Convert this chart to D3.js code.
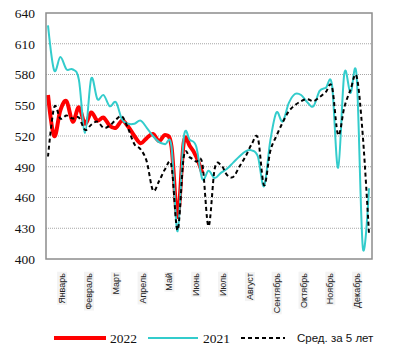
<!DOCTYPE html>
<html><head><meta charset="utf-8">
<script src="https://cdn.jsdelivr.net/npm/d3@7"></script>
<style>html,body{margin:0;padding:0;background:#fff;}svg{display:block;}</style>
</head><body>
<script>
const weeks = d3.range(1, 54);
const months = ["Январь","Февраль","Март","Апрель","Май","Июнь","Июль","Август","Сентябрь","Октябрь","Ноябрь","Декабрь"];
const yTicks = [400, 430, 460, 490, 520, 550, 580, 610, 640];
const s2022 = [560,520,545,554,534,548,532,543,535,538,530,528,535,529,520,513,518,522,515,521,510,441,514,510,500,484];
const s2021 = [628,584,597,585,585,575,523,576,556,560,549,553,536,532,532,535,528,520,514,512,510,427,519,516,510,478,486,479,484,488,494,500,505,506,500,471,515,543,534,552,561,560,553,549,564,567,570,489,581,562,578,411,469];
const sAvg = [500,548,537,540,537,538,526,531,534,528,530,536,539,527,512,507,495,467,476,488,491,428,500,499,495,493,432,488,492,482,480,490,500,512,518,472,505,520,533,544,550,554,556,554,558,563,568,521,548,565,578,520,425];
const seriesNames = ["2022", "2021", "Сред. за 5 лет"];

const W = 394, H = 360;
const plot = {l: 46, r: 372, t: 13, b: 259};
const svg = d3.select("body").append("svg").attr("width", W).attr("height", H);

const x = d3.scaleLinear().domain([1, 53]).range([48, 369]);
const y = d3.scaleLinear().domain([400, 640]).range([plot.b, plot.t]);

// gridlines
svg.append("g").selectAll("line").data(yTicks.filter(v => v > 400 && v < 640)).join("line")
  .attr("x1", plot.l).attr("x2", plot.r)
  .attr("y1", d => y(d)).attr("y2", d => y(d))
  .attr("stroke", "#a6a6a6").attr("stroke-width", 1.2).attr("stroke-dasharray", "1,1");

// y axis labels
const yAxis = d3.axisLeft(y).tickValues(yTicks).tickSize(0).tickPadding(11);
const ga = svg.append("g").attr("transform", `translate(${plot.l},0)`).call(yAxis);
ga.select(".domain").remove();
ga.selectAll("text").attr("font-family", "'Liberation Serif', 'Times New Roman', serif")
  .attr("font-size", 13.5).attr("fill", "#111");

// lines
const line = d3.line().x((d, i) => x(weeks[i])).y(d => y(d)).curve(d3.curveCardinal.tension(0));
svg.append("path").datum(s2022).attr("d", line).attr("fill", "none")
  .attr("stroke", "#ff0000").attr("stroke-width", 4).attr("stroke-linejoin", "round");
svg.append("path").datum(s2021).attr("d", line).attr("fill", "none")
  .attr("stroke", "#33cccc").attr("stroke-width", 2);
svg.append("path").datum(sAvg).attr("d", line).attr("fill", "none")
  .attr("stroke", "#000").attr("stroke-width", 2).attr("stroke-dasharray", "4,3");

// plot border
svg.append("rect").attr("x", plot.l).attr("y", plot.t).attr("width", plot.r - plot.l).attr("height", plot.b - plot.t)
  .attr("fill", "none").attr("stroke", "#8c8c8c").attr("stroke-width", 1.5);

// month labels
const xm = d3.scalePoint().domain(months).range([62, 357]);
const mg = svg.append("g");
months.forEach(m => {
  const g = mg.append("g").attr("transform", `translate(${xm(m)},273) rotate(-90)`);
  const t = g.append("text").text(m).attr("text-anchor", "end").attr("dy", "0.35em")
    .attr("font-family", "'Liberation Sans', Arial, sans-serif").attr("font-size", 9).attr("fill", "#222");
  const bb = t.node().getBBox();
  g.insert("rect", "text").attr("x", bb.x - 1).attr("y", bb.y).attr("width", bb.width + 2).attr("height", bb.height)
    .attr("fill", "#f3f3f3");
});

// legend
const leg = svg.append("g");
const ly = 338;
const legItems = [
  {name: seriesNames[0], x1: 54, x2: 106, tx: 110, color: "#ff0000", w: 4, dash: null, font: "'Liberation Serif', serif", fs: 13.5},
  {name: seriesNames[1], x1: 148, x2: 198, tx: 203, color: "#33cccc", w: 2, dash: null, font: "'Liberation Serif', serif", fs: 13.5},
  {name: seriesNames[2], x1: 241, x2: 285, tx: 297, color: "#000", w: 2, dash: "4,3", font: "'Liberation Sans', Arial, sans-serif", fs: 11.5}
];
legItems.forEach(d => {
  leg.append("line").attr("x1", d.x1).attr("x2", d.x2).attr("y1", ly).attr("y2", ly)
    .attr("stroke", d.color).attr("stroke-width", d.w).attr("stroke-dasharray", d.dash);
  leg.append("text").attr("x", d.tx).attr("y", ly).attr("dy", "0.35em").text(d.name)
    .attr("font-family", d.font).attr("font-size", d.fs).attr("fill", "#111");
});
</script>
</body></html>
